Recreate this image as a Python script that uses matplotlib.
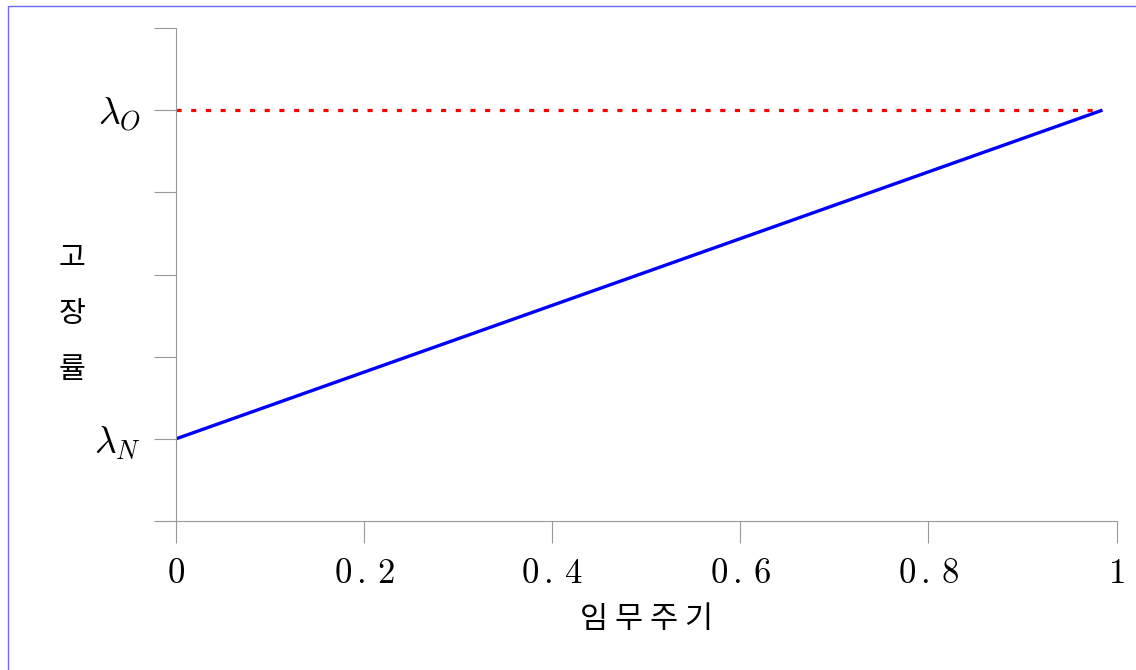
import matplotlib
matplotlib.use("Agg")
import matplotlib.pyplot as plt
from matplotlib.patches import Rectangle

plt.rcParams["font.family"] = ["Noto Sans CJK KR", "DejaVu Sans"]
plt.rcParams["mathtext.fontset"] = "cm"

# 데이터: 임무주기 vs 고장률
duty = [0.0, 0.985]
rate_new = [1.0, 5.0]        # λ_N -> λ_O
rate_old = [5.0, 5.0]        # λ_O 수평선
yticks = [0, 1, 2, 3, 4, 5, 6]
ytick_labels = ["", r"$\lambda_N$", "", "", "", r"$\lambda_O$", ""]
xticks = [0, 0.2, 0.4, 0.6, 0.8, 1.0]
xtick_labels = [r"$0$", r"$0\,.\,2$", r"$0\,.\,4$", r"$0\,.\,6$", r"$0\,.\,8$", r"$1$"]

W, H = 1136, 670
fig = plt.figure(figsize=(W / 100, H / 100), dpi=100)
fig.patches.append(Rectangle((8 / W, -0.1), 1.2, 1 - 6 / H + 0.1, transform=fig.transFigure,
                             fill=False, edgecolor="#6a6aff", lw=1.0))

ax = fig.add_axes([176 / W, 1 - 521 / H, (1116.5 - 176) / W, (521 - 28) / H])
ax.plot(duty, rate_old, color="red", lw=2.3, linestyle=(0, (1.6, 3.0)))
ax.plot(duty, rate_new, color="blue", lw=2.4, solid_capstyle="butt")

ax.set_xlim(0, 1)
ax.set_ylim(0, 6)
ax.set_xticks(xticks, xtick_labels, fontsize=25)
ax.set_yticks(yticks, ytick_labels, fontsize=27)
for s in ("top", "right"):
    ax.spines[s].set_visible(False)
for s in ("left", "bottom"):
    ax.spines[s].set_color("#999999")
    ax.spines[s].set_linewidth(0.8)
ax.tick_params(axis="both", direction="out", length=16, width=0.8, color="#999999")
ax.tick_params(axis="x", pad=9)
ax.tick_params(axis="y", pad=9)

fig.text(647 / W, 1 - 620 / H, "임 무 주 기", ha="center", va="center", fontsize=22,
         fontweight="medium")
fig.text(72 / W, 1 - 314 / H, "고\n장\n률", ha="center", va="center", fontsize=21,
         linespacing=2.15, fontweight="medium")

fig.savefig("out.png", dpi=100, facecolor="white")
